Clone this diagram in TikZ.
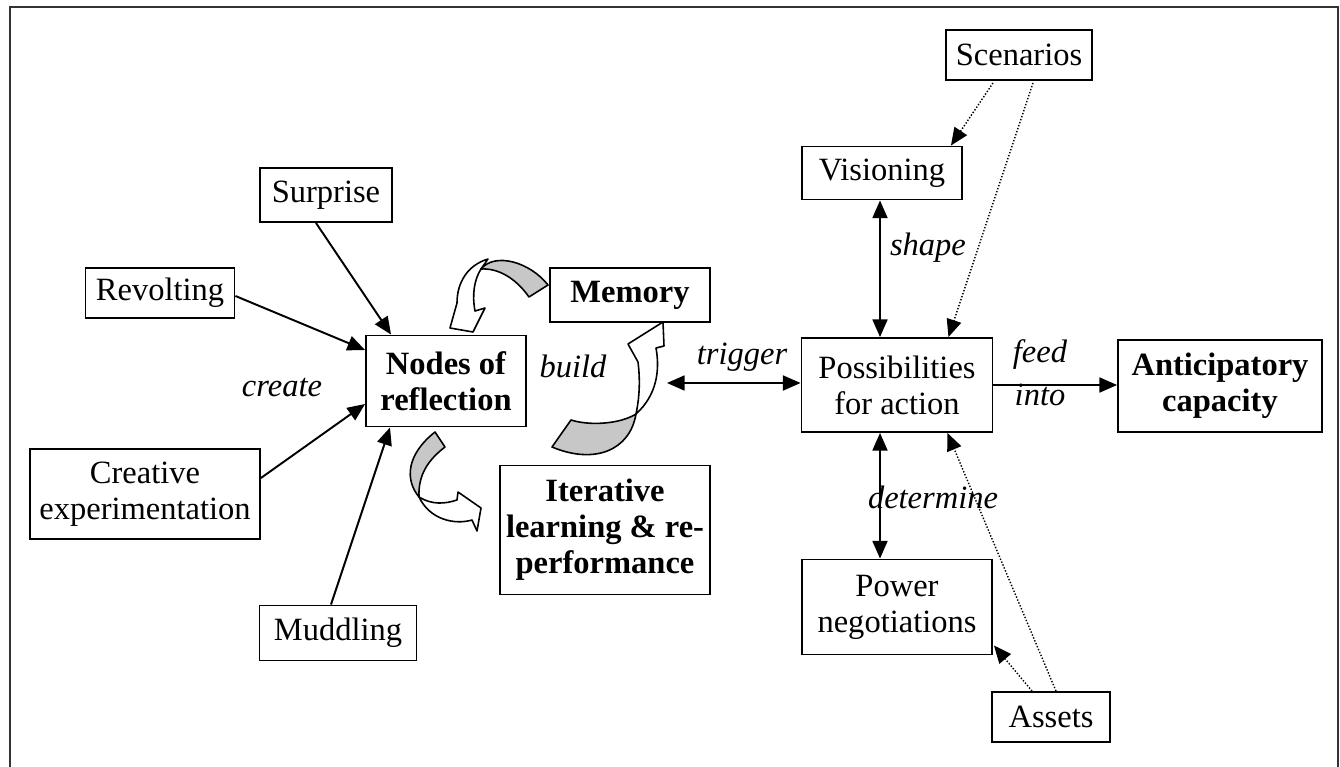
\documentclass[tikz,border=0pt]{standalone}
\usepackage{fontspec}
\setmainfont{Liberation Serif}
\usetikzlibrary{positioning,arrows.meta,calc}

\begin{document}
\begin{tikzpicture}[
    x=0.02cm, y=-0.02cm,
    block/.style={
      draw,
      rectangle,
      line width=1.1pt,
      inner sep=2pt,
      align=center,
      font=\fontsize{18.5}{20.5}\selectfont
    },
    hub/.style={block, font=\fontsize{18.5}{20.5}\selectfont\bfseries},
    verb/.style={font=\fontsize{18.5}{20.5}\selectfont\itshape, inner sep=1pt},
    link/.style={line width=1.1pt},
    hint/.style={line width=0.8pt, densely dotted},
    band/.style={draw, line width=0.9pt, line join=round},
    >={Triangle[length=10pt,width=8.5pt]} % arrow tip
  ]
    \useasboundingbox (0,0) rectangle (1340,767);
    \draw[line width=1.6pt, black!80] (10,767) -- (10,7) -- (1338,7) -- (1338,767);

    % Left cluster
    \node[block, minimum width=2.64cm, minimum height=1.08cm] (surprise) at (326,195) {Surprise};
    \node[block, minimum width=2.98cm, minimum height=1.0cm] (revolting) at (160,293) {Revolting};
    \node[hub, minimum width=3.2cm, minimum height=1.82cm] (nodes) at (446,381) {Nodes of\\reflection};
    \node[block, minimum width=4.6cm, minimum height=1.8cm] (creative) at (145,494) {Creative\\experimentation};
    \node[block, minimum width=3.14cm, minimum height=1.1cm] (muddling) at (338,633) {Muddling};

    % Middle
    \node[hub, minimum width=3.2cm, minimum height=1.08cm] (memory) at (630,295) {Memory};
    \node[hub, minimum width=4.2cm, minimum height=2.58cm] (iterative) at (605,530) {Iterative\\learning \& re-\\performance};

    % Right cluster
    \node[block, minimum width=2.92cm, minimum height=1.0cm] (scenarios) at (1019,55) {Scenarios};
    \node[block, minimum width=3.2cm, minimum height=1.06cm] (visioning) at (882,173) {Visioning};
    \node[block, minimum width=3.82cm, minimum height=1.88cm] (possib) at (897,385) {Possibilities\\for action};
    \node[hub, minimum width=4.08cm, minimum height=1.84cm] (anticip) at (1220,386) {Anticipatory\\capacity};
    \node[block, minimum width=3.8cm, minimum height=1.9cm] (power) at (897,607) {Power\\negotiations};
    \node[block, minimum width=2.36cm, minimum height=1.0cm] (assets) at (1051,717) {Assets};
    \coordinate (trigL) at (667,383);

    % Labels
    \node[verb] (create) at (282,388) {create};
    \node[verb] (build) at (573,366) {build};
    \node[verb] (trigger) at (742,357) {trigger};
    \node[verb] (shape) at (928,248) {shape};
    \node[verb] (determine) at (933,497) {determine};
    \node[verb] (feed) at (1040,355) {feed};
    \node[verb] (into) at (1040,395) {into};

    % Arrows into nodes of reflection
    \draw[link,->] ($(surprise.south)+(-10,0)$) -- ($(nodes.north west)+(26,0)$);
    \draw[link,->] ($(revolting.east)+(0,3)$) -- ($(nodes.west)+(0,-31)$);
    \draw[link,->] ($(creative.east)+(0,-16)$) -- ($(nodes.west)+(0,23)$);
    \draw[link,->] ($(muddling.north)+(-7,0)$) -- ($(nodes.south)+(-56,0)$);

    % Arrows round possibilities
    \draw[link,<->] (trigL) -- (trigL -| possib.west);
    \draw[link,->] (possib.east) -- (possib.east -| anticip.west);
    \draw[link,<->] ($(visioning.south)+(-2,0)$) -- ($(possib.north)+(-17,0)$);
    \draw[link,<->] ($(possib.south)+(-17,0)$) -- ($(power.north)+(-17,0)$);

    % Dotted influences
    \draw[hint,->] ($(scenarios.south)+(-26,2)$) -- ($(visioning.north east)+(-12,0)$);
    \draw[hint,->] ($(scenarios.south)+(14,2)$) -- ($(possib.north east)+(-45,0)$);
    \draw[hint,->] ($(assets.north)+(5,0)$) -- ($(possib.south east)+(-46,0)$);
    \draw[hint,->] ($(assets.north)+(-19,0)$) -- ($(power.south east)+(1,-10)$);

    % Curved block arrows
    \filldraw[band, fill=white] (488,259) .. controls (468,265) and (457,282) .. (457,303)
      -- (450,328) -- (473,332) -- (485,308) -- (475,311)
      .. controls (472,295) and (474,280) .. (481,269) -- cycle;
    \filldraw[band, fill=black!22] (548,285) -- (529,297)
      .. controls (515,277) and (497,268) .. (481,269)
      .. controls (495,252) and (530,262) .. (548,285) -- cycle;

    \filldraw[band, fill=white] (636,414) .. controls (640,395) and (640,378) .. (638,362)
      -- (628,344) -- (663,322) -- (664,346) -- (656,348)
      .. controls (660,370) and (657,395) .. (636,414) -- cycle;
    \filldraw[band, fill=black!22] (552,447) -- (571,420)
      .. controls (590,426) and (620,424) .. (636,414)
      .. controls (630,450) and (595,465) .. (552,447) -- cycle;

    \filldraw[band, fill=white] (419,497) .. controls (432,505) and (445,504) .. (457,500)
      -- (458,492) -- (481,508) -- (477,531) -- (472,520)
      .. controls (455,525) and (430,520) .. (419,497) -- cycle;
    \filldraw[band, fill=black!22] (435,432) -- (445,447)
      .. controls (428,460) and (418,475) .. (419,497)
      .. controls (405,480) and (406,455) .. (435,432) -- cycle;
\end{tikzpicture}
\end{document}
